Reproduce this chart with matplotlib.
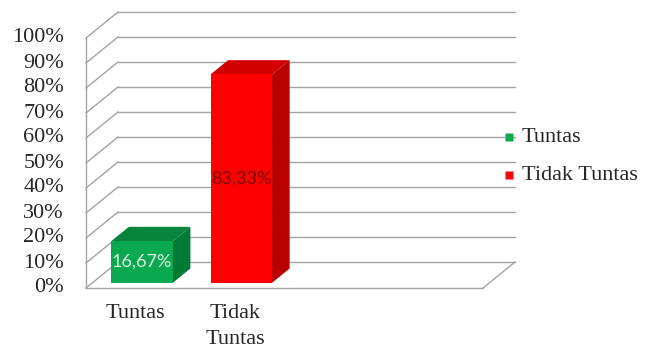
import matplotlib
matplotlib.use("Agg")
import matplotlib.pyplot as plt
from matplotlib.patches import Polygon

# Data
categories = ["Tuntas", "Tidak\nTuntas"]
legend_labels = ["Tuntas", "Tidak Tuntas"]
values = [16.67, 83.33]
value_labels = ["16,67%", "83,33%"]
y_ticks = [0, 10, 20, 30, 40, 50, 60, 70, 80, 90, 100]
n_slots = 4  # category slots on the floor

# Colours per series: front, top, side, label text
front_cols = ["#0aa84f", "#ff0000"]
top_cols = ["#07853c", "#d20000"]
side_cols = ["#007a34", "#b80000"]
label_cols = ["#d8f5dd", "#7a0000"]

W, H, DPI = 645, 349, 100
fig = plt.figure(figsize=(W / DPI, H / DPI), dpi=DPI)
ax = fig.add_axes([0, 0, 1, 1])

# Oblique projection: x in category slots, y in percent, d = depth 0..1
px_per_x = 99.25
px_per_y = 2.5
x0_px, y0_px = 86, 288
ax.set_xlim(-x0_px / px_per_x, (W - x0_px) / px_per_x)
ax.set_ylim(-(H - y0_px) / px_per_y, y0_px / px_per_y)
ax.axis("off")

DX = 32 / px_per_x
DY = 26 / px_per_y


def proj(x, y, d):
    return (x + d * DX, y + d * DY)


grid_col = "#a3a3a3"
glw = 1.0

# Back wall gridlines and left wall diagonals
for t in y_ticks:
    bx0, by = proj(0, t, 1)
    bx1, _ = proj(n_slots, t, 1)
    ax.plot([bx0, bx1], [by, by], color=grid_col, lw=glw, zorder=1)
    fx, fy = proj(0, t, 0)
    ax.plot([fx, bx0], [fy, by], color=grid_col, lw=glw, zorder=1)

# Left wall front edge
ax.plot([0, 0], [0, 100], color=grid_col, lw=glw, zorder=1)
# Floor front and right edges
ax.plot([0, n_slots], [0, 0], color=grid_col, lw=glw, zorder=1)
rx, ry = proj(n_slots, 0, 1)
ax.plot([n_slots, rx], [0, ry], color=grid_col, lw=glw, zorder=1)

# 3D columns
bw = 0.62
d0, d1 = 0.2, 0.75
for i, v in enumerate(values):
    xl = i + 0.5 - bw / 2
    xr = i + 0.5 + bw / 2
    front = [proj(xl, 0, d0), proj(xr, 0, d0), proj(xr, v, d0), proj(xl, v, d0)]
    top = [proj(xl, v, d0), proj(xr, v, d0), proj(xr, v, d1), proj(xl, v, d1)]
    side = [proj(xr, 0, d0), proj(xr, 0, d1), proj(xr, v, d1), proj(xr, v, d0)]
    ax.add_patch(Polygon(side, closed=True, fc=side_cols[i], ec="none", zorder=3))
    ax.add_patch(Polygon(top, closed=True, fc=top_cols[i], ec="none", zorder=3))
    ax.add_patch(Polygon(front, closed=True, fc=front_cols[i], ec="none", zorder=4))
    cx, cy = proj(i + 0.5, v / 2, d0)
    ax.text(cx, cy, value_labels[i], ha="center", va="center",
            fontsize=13, family="Lato", color=label_cols[i], zorder=5)

text_col = "#262626"
serif = "Liberation Serif"
fs = 16

# Y tick labels on the front plane
for t in y_ticks:
    ax.text(-22 / px_per_x, t, f"{t}%", ha="right", va="center",
            fontsize=fs, family=serif, color=text_col)

# Category labels, one row per line
line_px = [25, 52]
for i, c in enumerate(categories):
    for j, line in enumerate(c.split("\n")):
        ax.text(i + 0.5, -line_px[j] / px_per_y, line, ha="center",
                va="center", fontsize=fs, family=serif, color=text_col)

# Legend
leg_x = (509 - x0_px) / px_per_x
leg_ys = [(y0_px - 137) / px_per_y, (y0_px - 175) / px_per_y]
for i, lab in enumerate(legend_labels):
    ax.plot([leg_x], [leg_ys[i]], marker="s", ms=6, color=front_cols[i],
            mec="none", zorder=6)
    ax.text(leg_x + 13 / px_per_x, leg_ys[i], lab, ha="left", va="center",
            fontsize=fs, family=serif, color=text_col)

fig.savefig("out.png", dpi=DPI)
